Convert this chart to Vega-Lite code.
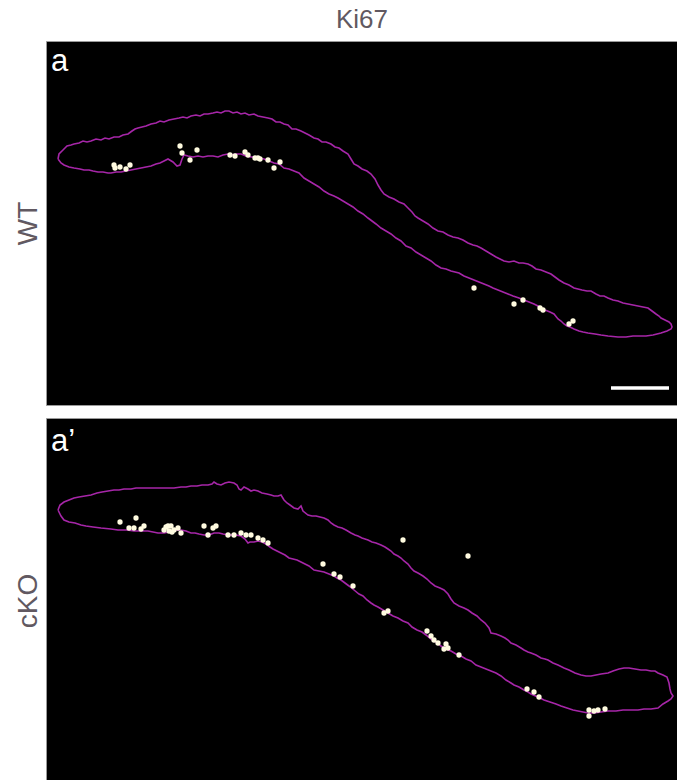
{
"$schema": "https://vega.github.io/schema/vega-lite/v6.json",
"background": "white",
"padding": {"left": 13, "top": 6, "right": 0, "bottom": 0},
"spacing": 11,
"config": {"view": {"fill": "black", "stroke": "#9a9a9a", "strokeWidth": 1}, "axis": {"grid": false}},
"resolve": {"scale": {"x": "independent", "y": "independent"}},
"datasets": {
"outlineA": [
{"i":0,"x":57,"y":158},{"i":1,"x":58,"y":153},{"i":2,"x":62,"y":149},{"i":3,"x":66,"y":145},{"i":4,"x":70,"y":144},{"i":5,"x":73,"y":143},{"i":6,"x":78,"y":142},{"i":7,"x":82,"y":140},{"i":8,"x":86,"y":141},{"i":9,"x":90,"y":140},{"i":10,"x":95,"y":138},{"i":11,"x":100,"y":139},{"i":12,"x":104,"y":137},{"i":13,"x":108,"y":138},{"i":14,"x":113,"y":136},{"i":15,"x":118,"y":136},{"i":16,"x":122,"y":134},{"i":17,"x":127,"y":133},{"i":18,"x":131,"y":130},{"i":19,"x":134,"y":128},{"i":20,"x":137,"y":127},{"i":21,"x":141,"y":126},{"i":22,"x":145,"y":125},{"i":23,"x":150,"y":123},{"i":24,"x":155,"y":122},{"i":25,"x":159,"y":120},{"i":26,"x":163,"y":121},{"i":27,"x":168,"y":119},{"i":28,"x":173,"y":118},{"i":29,"x":178,"y":117},{"i":30,"x":182,"y":116},{"i":31,"x":186,"y":117},{"i":32,"x":190,"y":115},{"i":33,"x":195,"y":114},{"i":34,"x":199,"y":115},{"i":35,"x":203,"y":113},{"i":36,"x":207,"y":113},{"i":37,"x":212,"y":112},{"i":38,"x":216,"y":111},{"i":39,"x":220,"y":112},{"i":40,"x":224,"y":110},{"i":41,"x":228,"y":110},{"i":42,"x":232,"y":112},{"i":43,"x":236,"y":111},{"i":44,"x":240,"y":113},{"i":45,"x":244,"y":112},{"i":46,"x":248,"y":114},{"i":47,"x":253,"y":113},{"i":48,"x":257,"y":115},{"i":49,"x":262,"y":116},{"i":50,"x":267,"y":117},{"i":51,"x":271,"y":118},{"i":52,"x":275,"y":121},{"i":53,"x":279,"y":121},{"i":54,"x":283,"y":123},{"i":55,"x":287,"y":124},{"i":56,"x":291,"y":128},{"i":57,"x":295,"y":128},{"i":58,"x":300,"y":130},{"i":59,"x":304,"y":132},{"i":60,"x":308,"y":134},{"i":61,"x":313,"y":137},{"i":62,"x":317,"y":138},{"i":63,"x":321,"y":141},{"i":64,"x":325,"y":141},{"i":65,"x":330,"y":143},{"i":66,"x":334,"y":146},{"i":67,"x":338,"y":147},{"i":68,"x":342,"y":150},{"i":69,"x":347,"y":153},{"i":70,"x":350,"y":158},{"i":71,"x":353,"y":163},{"i":72,"x":357,"y":165},{"i":73,"x":361,"y":168},{"i":74,"x":366,"y":170},{"i":75,"x":370,"y":173},{"i":76,"x":374,"y":178},{"i":77,"x":377,"y":184},{"i":78,"x":380,"y":189},{"i":79,"x":383,"y":193},{"i":80,"x":388,"y":196},{"i":81,"x":393,"y":198},{"i":82,"x":398,"y":201},{"i":83,"x":403,"y":203},{"i":84,"x":407,"y":207},{"i":85,"x":411,"y":211},{"i":86,"x":414,"y":215},{"i":87,"x":417,"y":217},{"i":88,"x":422,"y":220},{"i":89,"x":427,"y":223},{"i":90,"x":432,"y":227},{"i":91,"x":437,"y":230},{"i":92,"x":442,"y":231},{"i":93,"x":447,"y":234},{"i":94,"x":452,"y":236},{"i":95,"x":457,"y":237},{"i":96,"x":462,"y":239},{"i":97,"x":467,"y":242},{"i":98,"x":472,"y":244},{"i":99,"x":476,"y":245},{"i":100,"x":480,"y":247},{"i":101,"x":485,"y":250},{"i":102,"x":490,"y":253},{"i":103,"x":495,"y":256},{"i":104,"x":499,"y":258},{"i":105,"x":503,"y":260},{"i":106,"x":508,"y":261},{"i":107,"x":513,"y":260},{"i":108,"x":518,"y":262},{"i":109,"x":522,"y":262},{"i":110,"x":527,"y":263},{"i":111,"x":531,"y":265},{"i":112,"x":535,"y":268},{"i":113,"x":540,"y":269},{"i":114,"x":545,"y":271},{"i":115,"x":550,"y":273},{"i":116,"x":554,"y":276},{"i":117,"x":558,"y":279},{"i":118,"x":563,"y":282},{"i":119,"x":568,"y":284},{"i":120,"x":573,"y":287},{"i":121,"x":577,"y":288},{"i":122,"x":581,"y":289},{"i":123,"x":586,"y":290},{"i":124,"x":590,"y":290},{"i":125,"x":595,"y":293},{"i":126,"x":599,"y":295},{"i":127,"x":603,"y":295},{"i":128,"x":607,"y":297},{"i":129,"x":612,"y":299},{"i":130,"x":617,"y":300},{"i":131,"x":622,"y":302},{"i":132,"x":627,"y":303},{"i":133,"x":632,"y":304},{"i":134,"x":637,"y":305},{"i":135,"x":642,"y":306},{"i":136,"x":647,"y":307},{"i":137,"x":651,"y":310},{"i":138,"x":655,"y":313},{"i":139,"x":658,"y":315},{"i":140,"x":660,"y":317},{"i":141,"x":664,"y":319},{"i":142,"x":668,"y":321},{"i":143,"x":670,"y":323},{"i":144,"x":671,"y":326},{"i":145,"x":670,"y":328},
{"i":146,"x":666,"y":330},{"i":147,"x":660,"y":332},{"i":148,"x":652,"y":334},{"i":149,"x":645,"y":335},{"i":150,"x":640,"y":335},{"i":151,"x":632,"y":335},{"i":152,"x":625,"y":336},{"i":153,"x":617,"y":336},{"i":154,"x":607,"y":335},{"i":155,"x":600,"y":334},{"i":156,"x":594,"y":333},{"i":157,"x":587,"y":332},{"i":158,"x":582,"y":331},{"i":159,"x":578,"y":330},{"i":160,"x":573,"y":328},{"i":161,"x":569,"y":326},{"i":162,"x":566,"y":325},{"i":163,"x":563,"y":323},{"i":164,"x":560,"y":320},{"i":165,"x":557,"y":318},{"i":166,"x":553,"y":313},{"i":167,"x":549,"y":311},{"i":168,"x":544,"y":309},{"i":169,"x":540,"y":307},{"i":170,"x":537,"y":305},{"i":171,"x":533,"y":303},{"i":172,"x":528,"y":301},{"i":173,"x":523,"y":299},{"i":174,"x":518,"y":297},{"i":175,"x":512,"y":295},{"i":176,"x":507,"y":293},{"i":177,"x":502,"y":291},{"i":178,"x":497,"y":289},{"i":179,"x":492,"y":287},{"i":180,"x":488,"y":285},{"i":181,"x":483,"y":283},{"i":182,"x":478,"y":281},{"i":183,"x":473,"y":279},{"i":184,"x":468,"y":277},{"i":185,"x":463,"y":275},{"i":186,"x":458,"y":272},{"i":187,"x":454,"y":271},{"i":188,"x":450,"y":270},{"i":189,"x":445,"y":268},{"i":190,"x":440,"y":267},{"i":191,"x":435,"y":264},{"i":192,"x":430,"y":260},{"i":193,"x":425,"y":257},{"i":194,"x":420,"y":254},{"i":195,"x":415,"y":251},{"i":196,"x":410,"y":247},{"i":197,"x":405,"y":245},{"i":198,"x":400,"y":240},{"i":199,"x":395,"y":237},{"i":200,"x":390,"y":233},{"i":201,"x":385,"y":230},{"i":202,"x":380,"y":227},{"i":203,"x":375,"y":223},{"i":204,"x":371,"y":220},{"i":205,"x":367,"y":217},{"i":206,"x":362,"y":213},{"i":207,"x":357,"y":210},{"i":208,"x":352,"y":206},{"i":209,"x":347,"y":203},{"i":210,"x":342,"y":200},{"i":211,"x":337,"y":197},{"i":212,"x":333,"y":195},{"i":213,"x":328,"y":193},{"i":214,"x":323,"y":190},{"i":215,"x":318,"y":186},{"i":216,"x":313,"y":183},{"i":217,"x":308,"y":180},{"i":218,"x":303,"y":177},{"i":219,"x":298,"y":172},{"i":220,"x":293,"y":170},{"i":221,"x":288,"y":168},{"i":222,"x":283,"y":167},{"i":223,"x":278,"y":163},{"i":224,"x":273,"y":162},{"i":225,"x":268,"y":160},{"i":226,"x":263,"y":158},{"i":227,"x":258,"y":157},{"i":228,"x":254,"y":156},{"i":229,"x":250,"y":156},{"i":230,"x":245,"y":155},{"i":231,"x":240,"y":153},{"i":232,"x":235,"y":153},{"i":233,"x":230,"y":154},{"i":234,"x":227,"y":153},{"i":235,"x":222,"y":154},{"i":236,"x":217,"y":156},{"i":237,"x":212,"y":155},{"i":238,"x":207,"y":155},{"i":239,"x":202,"y":156},{"i":240,"x":197,"y":155},{"i":241,"x":192,"y":156},{"i":242,"x":187,"y":155},{"i":243,"x":183,"y":154},{"i":244,"x":181,"y":158},{"i":245,"x":179,"y":164},{"i":246,"x":176,"y":165},{"i":247,"x":172,"y":161},{"i":248,"x":167,"y":158},{"i":249,"x":163,"y":160},{"i":250,"x":159,"y":162},{"i":251,"x":155,"y":163},{"i":252,"x":150,"y":165},{"i":253,"x":145,"y":166},{"i":254,"x":140,"y":167},{"i":255,"x":135,"y":168},{"i":256,"x":130,"y":169},{"i":257,"x":125,"y":170},{"i":258,"x":120,"y":171},{"i":259,"x":115,"y":171},{"i":260,"x":110,"y":172},{"i":261,"x":107,"y":172},{"i":262,"x":102,"y":171},{"i":263,"x":97,"y":171},{"i":264,"x":92,"y":170},{"i":265,"x":88,"y":169},{"i":266,"x":83,"y":169},{"i":267,"x":79,"y":168},{"i":268,"x":73,"y":167},{"i":269,"x":68,"y":166},{"i":270,"x":63,"y":164},{"i":271,"x":60,"y":162},{"i":272,"x":57,"y":158}
],
"outlineB": [
{"i":0,"x":57,"y":507},{"i":1,"x":59,"y":502},{"i":2,"x":63,"y":499},{"i":3,"x":68,"y":497},{"i":4,"x":73,"y":495},{"i":5,"x":78,"y":494},{"i":6,"x":84,"y":493},{"i":7,"x":90,"y":492},{"i":8,"x":96,"y":490},{"i":9,"x":101,"y":489},{"i":10,"x":107,"y":488},{"i":11,"x":113,"y":487},{"i":12,"x":118,"y":487},{"i":13,"x":123,"y":486},{"i":14,"x":130,"y":486},{"i":15,"x":135,"y":485},{"i":16,"x":140,"y":485},{"i":17,"x":147,"y":485},{"i":18,"x":152,"y":485},{"i":19,"x":157,"y":485},{"i":20,"x":163,"y":485},{"i":21,"x":168,"y":485},{"i":22,"x":173,"y":485},{"i":23,"x":180,"y":484},{"i":24,"x":185,"y":484},{"i":25,"x":190,"y":483},{"i":26,"x":196,"y":483},{"i":27,"x":201,"y":482},{"i":28,"x":207,"y":482},{"i":29,"x":211,"y":481},{"i":30,"x":213,"y":479},{"i":31,"x":216,"y":481},{"i":32,"x":220,"y":482},{"i":33,"x":224,"y":480},{"i":34,"x":228,"y":479},{"i":35,"x":233,"y":480},{"i":36,"x":236,"y":482},{"i":37,"x":238,"y":486},{"i":38,"x":240,"y":487},{"i":39,"x":243,"y":484},{"i":40,"x":247,"y":486},{"i":41,"x":250,"y":488},{"i":42,"x":253,"y":487},{"i":43,"x":257,"y":488},{"i":44,"x":261,"y":490},{"i":45,"x":266,"y":491},{"i":46,"x":270,"y":492},{"i":47,"x":273,"y":493},{"i":48,"x":277,"y":493},{"i":49,"x":280,"y":492},{"i":50,"x":283,"y":497},{"i":51,"x":286,"y":500},{"i":52,"x":289,"y":502},{"i":53,"x":293,"y":505},{"i":54,"x":297,"y":506},{"i":55,"x":300,"y":503},{"i":56,"x":302,"y":508},{"i":57,"x":307,"y":512},{"i":58,"x":311,"y":513},{"i":59,"x":315,"y":513},{"i":60,"x":319,"y":514},{"i":61,"x":323,"y":515},{"i":62,"x":327,"y":517},{"i":63,"x":330,"y":520},{"i":64,"x":333,"y":522},{"i":65,"x":337,"y":524},{"i":66,"x":341,"y":525},{"i":67,"x":345,"y":527},{"i":68,"x":350,"y":530},{"i":69,"x":354,"y":532},{"i":70,"x":357,"y":533},{"i":71,"x":361,"y":535},{"i":72,"x":364,"y":536},{"i":73,"x":367,"y":537},{"i":74,"x":371,"y":539},{"i":75,"x":375,"y":540},{"i":76,"x":380,"y":542},{"i":77,"x":384,"y":544},{"i":78,"x":387,"y":546},{"i":79,"x":390,"y":548},{"i":80,"x":393,"y":551},{"i":81,"x":397,"y":553},{"i":82,"x":400,"y":555},{"i":83,"x":403,"y":558},{"i":84,"x":407,"y":561},{"i":85,"x":410,"y":565},{"i":86,"x":413,"y":568},{"i":87,"x":417,"y":570},{"i":88,"x":422,"y":573},{"i":89,"x":426,"y":576},{"i":90,"x":430,"y":580},{"i":91,"x":434,"y":583},{"i":92,"x":439,"y":585},{"i":93,"x":443,"y":587},{"i":94,"x":447,"y":591},{"i":95,"x":450,"y":596},{"i":96,"x":453,"y":600},{"i":97,"x":458,"y":603},{"i":98,"x":463,"y":605},{"i":99,"x":467,"y":607},{"i":100,"x":471,"y":610},{"i":101,"x":476,"y":613},{"i":102,"x":480,"y":617},{"i":103,"x":484,"y":620},{"i":104,"x":488,"y":625},{"i":105,"x":490,"y":630},{"i":106,"x":495,"y":631},{"i":107,"x":500,"y":633},{"i":108,"x":504,"y":635},{"i":109,"x":507,"y":637},{"i":110,"x":510,"y":640},{"i":111,"x":515,"y":642},{"i":112,"x":520,"y":645},{"i":113,"x":523,"y":647},{"i":114,"x":527,"y":649},{"i":115,"x":530,"y":650},{"i":116,"x":535,"y":652},{"i":117,"x":540,"y":655},{"i":118,"x":544,"y":656},{"i":119,"x":547,"y":657},{"i":120,"x":552,"y":660},{"i":121,"x":557,"y":662},{"i":122,"x":563,"y":665},{"i":123,"x":568,"y":667},{"i":124,"x":574,"y":670},{"i":125,"x":580,"y":672},{"i":126,"x":585,"y":673},{"i":127,"x":590,"y":673},{"i":128,"x":595,"y":672},{"i":129,"x":600,"y":671},{"i":130,"x":607,"y":670},{"i":131,"x":612,"y":668},{"i":132,"x":618,"y":666},{"i":133,"x":623,"y":665},{"i":134,"x":628,"y":665},{"i":135,"x":634,"y":666},{"i":136,"x":640,"y":667},{"i":137,"x":645,"y":667},{"i":138,"x":650,"y":668},{"i":139,"x":654,"y":668},{"i":140,"x":657,"y":670},{"i":141,"x":662,"y":672},{"i":142,"x":666,"y":674},{"i":143,"x":668,"y":680},{"i":144,"x":669,"y":686},{"i":145,"x":670,"y":690},{"i":146,"x":672,"y":693},{"i":147,"x":670,"y":696},{"i":148,"x":667,"y":698},
{"i":149,"x":662,"y":701},{"i":150,"x":657,"y":705},{"i":151,"x":650,"y":706},{"i":152,"x":643,"y":706},{"i":153,"x":637,"y":707},{"i":154,"x":630,"y":707},{"i":155,"x":622,"y":707},{"i":156,"x":615,"y":708},{"i":157,"x":607,"y":708},{"i":158,"x":600,"y":709},{"i":159,"x":593,"y":710},{"i":160,"x":587,"y":710},{"i":161,"x":582,"y":709},{"i":162,"x":577,"y":708},{"i":163,"x":572,"y":707},{"i":164,"x":566,"y":705},{"i":165,"x":560,"y":703},{"i":166,"x":555,"y":701},{"i":167,"x":549,"y":699},{"i":168,"x":543,"y":697},{"i":169,"x":537,"y":694},{"i":170,"x":530,"y":691},{"i":171,"x":527,"y":689},{"i":172,"x":523,"y":687},{"i":173,"x":518,"y":684},{"i":174,"x":513,"y":682},{"i":175,"x":510,"y":680},{"i":176,"x":505,"y":677},{"i":177,"x":500,"y":673},{"i":178,"x":495,"y":670},{"i":179,"x":490,"y":668},{"i":180,"x":485,"y":666},{"i":181,"x":480,"y":664},{"i":182,"x":475,"y":662},{"i":183,"x":470,"y":658},{"i":184,"x":465,"y":656},{"i":185,"x":460,"y":653},{"i":186,"x":455,"y":651},{"i":187,"x":450,"y":648},{"i":188,"x":445,"y":646},{"i":189,"x":440,"y":643},{"i":190,"x":435,"y":639},{"i":191,"x":430,"y":636},{"i":192,"x":425,"y":632},{"i":193,"x":421,"y":629},{"i":194,"x":416,"y":627},{"i":195,"x":411,"y":624},{"i":196,"x":407,"y":620},{"i":197,"x":402,"y":618},{"i":198,"x":397,"y":615},{"i":199,"x":392,"y":613},{"i":200,"x":387,"y":610},{"i":201,"x":382,"y":607},{"i":202,"x":377,"y":604},{"i":203,"x":373,"y":602},{"i":204,"x":370,"y":600},{"i":205,"x":366,"y":597},{"i":206,"x":362,"y":593},{"i":207,"x":358,"y":591},{"i":208,"x":353,"y":587},{"i":209,"x":348,"y":583},{"i":210,"x":344,"y":580},{"i":211,"x":340,"y":577},{"i":212,"x":336,"y":575},{"i":213,"x":333,"y":573},{"i":214,"x":328,"y":571},{"i":215,"x":323,"y":569},{"i":216,"x":318,"y":568},{"i":217,"x":313,"y":567},{"i":218,"x":308,"y":563},{"i":219,"x":304,"y":561},{"i":220,"x":300,"y":559},{"i":221,"x":296,"y":557},{"i":222,"x":292,"y":556},{"i":223,"x":288,"y":555},{"i":224,"x":284,"y":552},{"i":225,"x":280,"y":550},{"i":226,"x":276,"y":548},{"i":227,"x":272,"y":546},{"i":228,"x":269,"y":544},{"i":229,"x":265,"y":541},{"i":230,"x":261,"y":539},{"i":231,"x":257,"y":538},{"i":232,"x":253,"y":539},{"i":233,"x":249,"y":539},{"i":234,"x":247,"y":540},{"i":235,"x":244,"y":536},{"i":236,"x":240,"y":533},{"i":237,"x":235,"y":532},{"i":238,"x":230,"y":532},{"i":239,"x":227,"y":532},{"i":240,"x":222,"y":531},{"i":241,"x":218,"y":530},{"i":242,"x":213,"y":530},{"i":243,"x":208,"y":532},{"i":244,"x":203,"y":532},{"i":245,"x":198,"y":531},{"i":246,"x":194,"y":530},{"i":247,"x":190,"y":530},{"i":248,"x":185,"y":528},{"i":249,"x":180,"y":527},{"i":250,"x":176,"y":527},{"i":251,"x":173,"y":527},{"i":252,"x":168,"y":529},{"i":253,"x":163,"y":530},{"i":254,"x":157,"y":530},{"i":255,"x":152,"y":529},{"i":256,"x":147,"y":528},{"i":257,"x":140,"y":528},{"i":258,"x":133,"y":528},{"i":259,"x":126,"y":527},{"i":260,"x":117,"y":527},{"i":261,"x":110,"y":526},{"i":262,"x":100,"y":525},{"i":263,"x":92,"y":524},{"i":264,"x":85,"y":523},{"i":265,"x":80,"y":522},{"i":266,"x":74,"y":520},{"i":267,"x":68,"y":519},{"i":268,"x":63,"y":517},{"i":269,"x":60,"y":513},{"i":270,"x":57,"y":507}
],
"dotsA": [
{"x":113,"y":164},{"x":114,"y":167},{"x":119,"y":166},{"x":125,"y":168},{"x":129,"y":164},{"x":179,"y":145},{"x":181,"y":152},{"x":189,"y":159},{"x":196,"y":149},{"x":229,"y":154},{"x":234,"y":155},{"x":244,"y":151},{"x":247,"y":154},{"x":254,"y":157},{"x":257,"y":157},{"x":259,"y":158},{"x":267,"y":159},{"x":273,"y":167},{"x":279,"y":161},{"x":473,"y":287},{"x":513,"y":303},{"x":522,"y":299},{"x":539,"y":307},{"x":542,"y":309},{"x":568,"y":323},{"x":572,"y":320}
],
"dotsB": [
{"x":119,"y":519},{"x":135,"y":515},{"x":128,"y":525},{"x":133,"y":525},{"x":140,"y":526},{"x":143,"y":523},{"x":163,"y":527},{"x":165,"y":524},{"x":167,"y":523},{"x":170,"y":523},{"x":171,"y":529},{"x":173,"y":527},{"x":177,"y":525},{"x":168,"y":528},{"x":180,"y":530},{"x":203,"y":523},{"x":207,"y":532},{"x":212,"y":525},{"x":215,"y":523},{"x":227,"y":532},{"x":233,"y":532},{"x":240,"y":530},{"x":245,"y":532},{"x":250,"y":532},{"x":257,"y":535},{"x":262,"y":537},{"x":267,"y":540},{"x":402,"y":537},{"x":467,"y":553},{"x":322,"y":561},{"x":333,"y":571},{"x":339,"y":574},{"x":352,"y":583},{"x":383,"y":610},{"x":387,"y":608},{"x":426,"y":628},{"x":430,"y":633},{"x":433,"y":637},{"x":437,"y":640},{"x":445,"y":641},{"x":443,"y":646},{"x":447,"y":645},{"x":458,"y":652},{"x":526,"y":686},{"x":533,"y":689},{"x":538,"y":694},{"x":588,"y":707},{"x":588,"y":713},{"x":593,"y":708},{"x":597,"y":707},{"x":604,"y":706}
],
"barA": [{"x":610,"x2":668,"y":387}],
"labelA": [{"x":50,"y":70,"t":"a"}],
"labelB": [{"x":50,"y":448,"t":"a’"}]
},
"vconcat": [
{
"width": 632, "height": 364,
"title": {"text": "Ki67", "fontSize": 26, "color": "#615961", "font": "Liberation Sans", "fontWeight": "normal", "offset": 8, "anchor": "middle"},
"encoding": {
"x": {"field": "x", "type": "quantitative", "scale": {"domain": [45, 677], "nice": false, "zero": false}, "axis": null},
"y": {"field": "y", "type": "quantitative", "scale": {"domain": [40, 404], "nice": false, "zero": false, "reverse": true}, "axis": {"title": "WT", "labels": false, "ticks": false, "domain": false, "grid": false, "titleFontSize": 28, "titleColor": "#615961", "titleFont": "Liberation Sans", "titleFontWeight": "normal", "titlePadding": 4}}
},
"layer": [
{"data": {"name": "outlineA"}, "mark": {"type": "line", "color": "#a626a8", "strokeWidth": 1.6}, "encoding": {"order": {"field": "i", "type": "quantitative"}}},
{"data": {"name": "dotsA"}, "mark": {"type": "circle", "color": "#fffbe0", "size": 28, "opacity": 1}},
{"data": {"name": "barA"}, "mark": {"type": "rule", "color": "white", "strokeWidth": 3.5}, "encoding": {"x2": {"field": "x2"}}},
{"data": {"name": "labelA"}, "mark": {"type": "text", "color": "white", "fontSize": 31, "font": "Liberation Sans", "align": "left", "baseline": "alphabetic"}, "encoding": {"text": {"field": "t"}}}
]
},
{
"width": 632, "height": 365,
"encoding": {
"x": {"field": "x", "type": "quantitative", "scale": {"domain": [45, 677], "nice": false, "zero": false}, "axis": null},
"y": {"field": "y", "type": "quantitative", "scale": {"domain": [415, 780], "nice": false, "zero": false, "reverse": true}, "axis": {"title": "cKO", "labels": false, "ticks": false, "domain": false, "grid": false, "titleFontSize": 28, "titleColor": "#615961", "titleFont": "Liberation Sans", "titleFontWeight": "normal", "titlePadding": 4}}
},
"layer": [
{"data": {"name": "outlineB"}, "mark": {"type": "line", "color": "#a626a8", "strokeWidth": 1.6}, "encoding": {"order": {"field": "i", "type": "quantitative"}}},
{"data": {"name": "dotsB"}, "mark": {"type": "circle", "color": "#fffbe0", "size": 28, "opacity": 1}},
{"data": {"name": "labelB"}, "mark": {"type": "text", "color": "white", "fontSize": 31, "font": "Liberation Sans", "align": "left", "baseline": "alphabetic"}, "encoding": {"text": {"field": "t"}}}
]
}
]
}
